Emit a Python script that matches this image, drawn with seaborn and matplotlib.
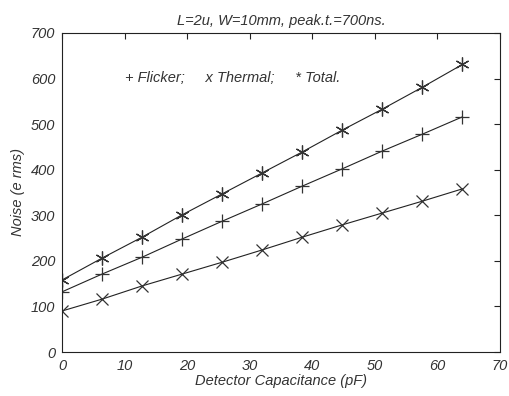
import matplotlib
matplotlib.use("Agg")
import matplotlib.pyplot as plt
import numpy as np
import pandas as pd
import seaborn as sns

# detector capacitance (pF)
capacitance = [0, 6.4, 12.8, 19.2, 25.6, 32, 38.4, 44.8, 51.2, 57.6, 64]

# noise (e rms)
flicker = [132, 171, 208, 248, 287, 325, 364, 402, 441, 478, 516]
thermal = [90, 116, 145, 171, 197, 224, 252, 279, 305, 331, 358]
total = [158, 206, 252, 301, 347, 393, 439, 487, 533, 581, 631]

x_ticks = [0, 10, 20, 30, 40, 50, 60, 70]
y_ticks = [0, 100, 200, 300, 400, 500, 600, 700]

sns.set_style("white")
plt.rcParams['font.family'] = ['Liberation Sans', 'DejaVu Sans']
plt.rcParams['font.style'] = 'italic'

fig = plt.figure(figsize=(5.09, 3.96), dpi=100)
ax = fig.add_axes([0.1218, 0.1111, 0.8605, 0.8056])

line_col = "#222222"
mark_col = "#333333"
# (6, 2, 0) -> six spoke asterisk like matlab's '*'
for vals, mk, ms in [(total, (6, 2, 0), 10), (flicker, "+", 10), (thermal, "x", 8)]:
    df = pd.DataFrame({"C": capacitance, "N": vals})
    sns.lineplot(data=df, x="C", y="N", ax=ax, color=line_col, linewidth=0.8,
                 marker=mk, markersize=ms, markeredgecolor=mark_col,
                 markeredgewidth=0.9, markerfacecolor="none")

ax.set_xlim(0, 70)
ax.set_ylim(0, 700)
ax.set_xticks(x_ticks)
ax.set_yticks(y_ticks)
ax.tick_params(direction="in", top=True, right=True, length=4, width=0.8,
               labelsize=10.5, colors="#222222", labelcolor="#333333", pad=5)
for s in ax.spines.values():
    s.set_color("#222222")
    s.set_linewidth(0.8)

ax.set_xlabel("Detector Capacitance (pF)", fontsize=10.5, color="#333333", labelpad=1)
ax.set_ylabel("Noise (e rms)", fontsize=10.5, color="#333333", labelpad=4)
ax.set_title("L=2u, W=10mm, peak.t.=700ns.", fontsize=10.5, color="#333333", pad=6)
ax.text(10, 601, "+ Flicker;     x Thermal;     * Total.", fontsize=10.5,
        color="#333333", va="center")

fig.savefig("out.png", dpi=100)
